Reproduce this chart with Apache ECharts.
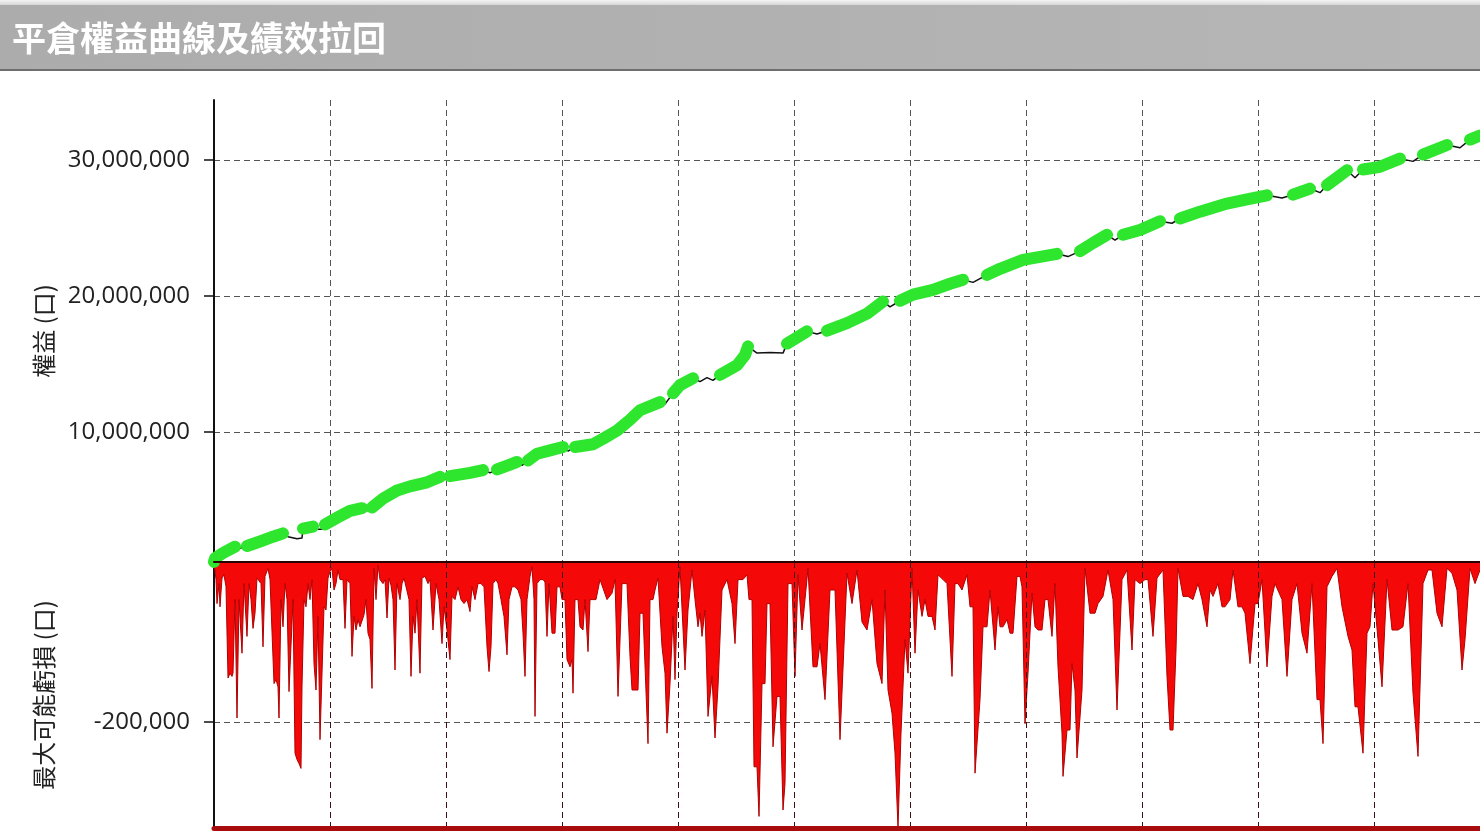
<!DOCTYPE html>
<html><head><meta charset="utf-8">
<script src="https://cdn.jsdelivr.net/npm/echarts@6/dist/echarts.min.js"></script>
<style>html,body{margin:0;padding:0;background:#fff}#c{width:1480px;height:832px}</style>
</head><body><div id="c"></div>
<script>
const titleText = '平倉權益曲線及績效拉回';
const equityAxisName = '權益 (口)';
const drawdownAxisName = '最大可能虧損 (口)';

// closed-trade equity (trade number, equity)
const eqTrade = [0,1,9,21,26,33,46,59,69,74,
  83,88,89,99,104,109,111,123,136,148,
  153,158,169,183,196,213,226,231,236,256,
  269,276,283,296,303,308,314,323,336,349,
  354,361,379,389,403,416,426,446,451,459,
  466,479,486,493,499,506,523,531,534,543,
  556,569,573,593,603,613,633,653,669,676,
  686,699,719,736,749,759,773,786,809,843,
  854,866,879,893,901,909,926,946,958,966,
  986,1013,1033,1053,1068,1079,1096,1106,1113,1133,
  1141,1149,1166,1186,1199,1209,1233,1246,1256,1266];
const equity = [450000,710000,1100000,1570000,1450000,1620000,1950000,2300000,2550000,2300000,
  2150000,2200000,2900000,3050000,2850000,2850000,3200000,3700000,4200000,4400000,
  4200000,4450000,5100000,5700000,6000000,6300000,6700000,6500000,6750000,7000000,
  7200000,7000000,7250000,7600000,7800000,7550000,7900000,8400000,8650000,8900000,
  8600000,8900000,9100000,9500000,10100000,10900000,11600000,12200000,12050000,12850000,
  13450000,13950000,13700000,14000000,13800000,14200000,14900000,15650000,16300000,15800000,
  15850000,15800000,16500000,17400000,17200000,17450000,18000000,18700000,19600000,19200000,
  19650000,20100000,20450000,20900000,21200000,21000000,21550000,22000000,22650000,23100000,
  22900000,23300000,23900000,24500000,24100000,24500000,24850000,25500000,25350000,25700000,
  26200000,26800000,27100000,27400000,27200000,27450000,27900000,27600000,28150000,29250000,
  28700000,29300000,29500000,30100000,29900000,30400000,31100000,30900000,31500000,31800000];

// maximum possible loss (trade number, loss)
const ddTrade = [0,2,3,5,6,8,10,12,14,16,
  18,19,21,23,25,28,30,33,35,37,
  39,41,43,45,47,49,51,54,56,58,
  60,62,64,65,67,69,71,73,75,77,
  79,81,83,85,87,88,90,92,94,96,
  98,100,102,104,106,108,110,112,114,116,
  118,120,122,124,126,129,131,133,136,138,
  140,142,144,146,148,150,152,154,156,158,
  160,162,164,166,169,171,173,175,177,179,
  181,183,186,188,190,192,195,197,199,201,
  203,206,208,211,214,216,219,222,225,228,
  230,233,236,238,241,244,247,250,253,256,
  258,261,264,267,270,273,275,277,279,282,
  284,287,290,293,295,298,301,304,307,309,
  311,313,316,318,320,321,323,326,329,331,
  333,335,338,341,343,346,348,351,353,356,
  358,359,361,364,366,369,371,374,376,379,
  382,384,
  386,393,398,401,404,408,413,416,418,421,
  424,426,429,434,436,439,441,444,448,451,
  453,456,459,461,463,466,471,474,478,481,
  484,486,488,491,494,498,501,504,508,513,
  518,521,524,529,533,535,538,540,543,545,
  548,551,553,556,559,563,566,569,571,574,
  578,581,584,588,591,594,599,603,606,611,
  616,621,626,633,638,643,648,653,658,663,
  668,671,674,678,681,684,687,691,694,698,
  701,704,708,711,714,718,721,724,729,733,
  738,741,744,748,753,756,759,761,766,769,
  773,776,781,784,
  786,789,793,796,799,803,806,808,811,814,
  818,821,824,828,831,834,838,841,844,848,
  849,853,856,858,861,863,868,871,876,881,
  884,889,894,899,903,908,913,918,921,926,
  931,934,939,943,949,953,956,959,962,964,
  969,974,979,984,988,993,996,999,1004,1008,
  1011,1016,1019,1024,1028,1031,1036,1041,1044,1048,
  1053,1058,1061,1068,1073,1078,1083,1088,1093,1098,
  1103,1106,1109,1113,1118,1123,1128,1134,1138,1141,
  1144,1149,1153,1156,1159,1164,1168,1173,1178,1184,
  1189,1194,1199,1204,1209,1214,1218,1223,1228,1233,
  1238,1243,1248,1251,1256,1261,1266];
const ddLoss = [0,-22000,-52000,-27000,-56000,-20000,-16000,-31000,-145000,-139000,
  -143000,-139000,-47000,-195000,-47000,-114000,-27000,-93000,-27000,-47000,
  -83000,-64000,-20000,-20000,-27000,-106000,-18000,-8000,-22000,-20000,
  -152000,-147000,-156000,-195000,-47000,-81000,-27000,-47000,-162000,-164000,
  -47000,-239000,-247000,-252000,-258000,-156000,-47000,-56000,-27000,-47000,
  -22000,-127000,-160000,-68000,-222000,-222000,-56000,-60000,-20000,-12000,
  -8000,-35000,-27000,-10000,-22000,-22000,-83000,-22000,-27000,-118000,
  -68000,-85000,-72000,-81000,-81000,-66000,-47000,-89000,-97000,-158000,
  -8000,-47000,-4000,-22000,-27000,-22000,-70000,-20000,-29000,-47000,
  -135000,-27000,-47000,-27000,-20000,-18000,-47000,-143000,-68000,-89000,
  -47000,-139000,-20000,-18000,-27000,-22000,-85000,-27000,-47000,-102000,
  -56000,-85000,-122000,-43000,-47000,-31000,-47000,-52000,-47000,-62000,
  -31000,-47000,-27000,-27000,-31000,-106000,-137000,-106000,-27000,-22000,
  -27000,-47000,-68000,-116000,-47000,-31000,-31000,-35000,-47000,-89000,
  -143000,-47000,-18000,-6000,-47000,-193000,-27000,-22000,-22000,-25000,
  -93000,-27000,-89000,-89000,-31000,-31000,-47000,-47000,-122000,-131000,
  -122000,-164000,-47000,-47000,-81000,-85000,-47000,-112000,-47000,-47000,
  -47000,-47000,
  -22000,-47000,-39000,-22000,-168000,-27000,-27000,-118000,-160000,-160000,
  -160000,-64000,-64000,-227000,-47000,-47000,-35000,-20000,-106000,-139000,
  -214000,-152000,-68000,-147000,-64000,-6000,-135000,-60000,-10000,-47000,
  -81000,-64000,-93000,-60000,-193000,-143000,-220000,-156000,-35000,-22000,
  -52000,-102000,-22000,-22000,-16000,-47000,-47000,-256000,-256000,-318000,
  -152000,-152000,-52000,-52000,-231000,-168000,-168000,-310000,-277000,-27000,
  -27000,-143000,-16000,-85000,-47000,-8000,-131000,-131000,-102000,-172000,
  -35000,-35000,-222000,-14000,-52000,-10000,-75000,-85000,-47000,-127000,
  -152000,-35000,-160000,-189000,-239000,-332000,-214000,-97000,-139000,-8000,
  -114000,-35000,-68000,-47000,-68000,-68000,-85000,-16000,-22000,-27000,
  -143000,-27000,-27000,-35000,-16000,-56000,-56000,-264000,-172000,-81000,
  -81000,-35000,-110000,-56000,
  -81000,-81000,-72000,-89000,-89000,-18000,-18000,-31000,-202000,-139000,
  -39000,-81000,-85000,-85000,-47000,-47000,-93000,-27000,-131000,-214000,
  -268000,-210000,-210000,-127000,-160000,-245000,-160000,-8000,-64000,-64000,
  -52000,-43000,-10000,-47000,-185000,-22000,-10000,-110000,-22000,-27000,
  -22000,-22000,-93000,-20000,-10000,-143000,-210000,-210000,-110000,-8000,
  -43000,-43000,-47000,-27000,-47000,-81000,-35000,-43000,-27000,-56000,
  -56000,-47000,-10000,-56000,-56000,-64000,-127000,-52000,-52000,-22000,
  -131000,-43000,-27000,-47000,-143000,-47000,-27000,-89000,-114000,-27000,
  -172000,-172000,-227000,-31000,-18000,-8000,-56000,-93000,-110000,-181000,
  -181000,-239000,-89000,-81000,-27000,-97000,-156000,-22000,-85000,-85000,
  -81000,-27000,-164000,-243000,-27000,-10000,-10000,-64000,-81000,-8000,
  -14000,-35000,-135000,-97000,-8000,-27000,-10000];

const tradeMax = 1266, tradeGridStep = 116;
const equityMin = 441176, equityMax = 34411765;
const lossMin = -332500, lossMax = 0;

const eqAll = eqTrade.map((t, i) => [t, equity[i]]);
let peak = -Infinity;
const eqHigh = eqTrade.map((t, i) => {
  if (equity[i] >= peak) { peak = equity[i]; return [t, equity[i]]; }
  return [t, '-'];
});
const n = Math.min(ddTrade.length, ddLoss.length);
const ddData = [];
for (let i = 0; i < n; i++) ddData.push([ddTrade[i], ddLoss[i]]);

const labelFont = { fontFamily: 'Open Sans', fontSize: 24, color: '#222' };
const nameFont = { fontFamily: 'Noto Sans CJK TC', fontSize: 24, color: '#222' };
const dashed = { color: '#555', width: 1, type: [6, 4] };

const chart = echarts.init(document.getElementById('c'), null, { renderer: 'canvas' });
chart.setOption({
  backgroundColor: '#fff',
  animation: false,
  graphic: [
    { type: 'rect', shape: { x: 0, y: 0, width: 1480, height: 6 },
      style: { fill: new echarts.graphic.LinearGradient(0, 0, 0, 1, [{offset: 0, color: '#f4f4f4'}, {offset: 1, color: '#d0d0d0'}]) } },
    { type: 'rect', shape: { x: 0, y: 5, width: 1480, height: 65 },
      style: { fill: new echarts.graphic.LinearGradient(0, 0, 1, 0, [{offset: 0, color: '#acacac'}, {offset: 1, color: '#b6b6b6'}]) } },
    { type: 'rect', shape: { x: 0, y: 69, width: 1480, height: 2 }, style: { fill: '#6e6e6e' } },
    { type: 'text', x: 12, y: 38,
      style: { text: titleText, fill: '#ffffff', font: 'bold 34px "Noto Sans CJK TC"', verticalAlign: 'middle' } }
  ],
  grid: [
    { left: 214, right: 0, top: 100, height: 462 },
    { left: 214, right: 0, top: 562, height: 266 }
  ],
  xAxis: [
    { gridIndex: 0, type: 'value', min: 0, max: tradeMax, interval: tradeGridStep,
      axisLine: { show: false }, axisTick: { show: false }, axisLabel: { show: false },
      splitLine: { show: true, showMinLine: false, showMaxLine: false, lineStyle: dashed } },
    { gridIndex: 1, type: 'value', position: 'top', min: 0, max: tradeMax, interval: tradeGridStep, z: 4,
      axisLine: { show: true, onZero: false, lineStyle: { color: '#2a0000', width: 2 } },
      axisTick: { show: false }, axisLabel: { show: false },
      splitLine: { show: true, showMinLine: false, showMaxLine: false, lineStyle: { color: '#3a1010', width: 1, type: [6, 4] } } },
    { gridIndex: 1, type: 'value', position: 'bottom', min: 0, max: tradeMax, z: 4,
      axisLine: { show: true, onZero: false, lineStyle: { color: '#a80c0c', width: 5 } },
      axisTick: { show: false }, axisLabel: { show: false }, splitLine: { show: false } }
  ],
  yAxis: [
    { gridIndex: 0, type: 'value', min: equityMin, max: equityMax, splitNumber: 3,
      name: equityAxisName, nameLocation: 'middle', nameGap: 158, nameTextStyle: nameFont,
      axisLine: { show: true, lineStyle: { color: '#111', width: 2 } },
      axisTick: { show: true, length: 10, lineStyle: { color: '#111', width: 1.5 } },
      axisLabel: Object.assign({ margin: 24, showMinLabel: false, showMaxLabel: false, padding: [0, 0, 14, 0],
        formatter: v => Number(v).toLocaleString('en-US') }, labelFont),
      splitLine: { show: true, showMinLine: false, showMaxLine: false, lineStyle: dashed } },
    { gridIndex: 1, type: 'value', min: lossMin, max: lossMax, splitNumber: 2,
      name: drawdownAxisName, nameLocation: 'middle', nameGap: 158, nameTextStyle: nameFont,
      axisLine: { show: true, lineStyle: { color: '#111', width: 2 } },
      axisTick: { show: true, length: 10, lineStyle: { color: '#111', width: 1.5 } },
      axisLabel: Object.assign({ margin: 24, showMinLabel: false, showMaxLabel: false, padding: [0, 0, 12, 0],
        formatter: v => Number(v).toLocaleString('en-US') }, labelFont),
      splitLine: { show: true, showMinLine: false, showMaxLine: false, lineStyle: dashed } }
  ],
  series: [
    { name: 'equityAll', type: 'line', xAxisIndex: 0, yAxisIndex: 0, data: eqAll,
      showSymbol: false, symbol: 'none', z: 2,
      lineStyle: { color: '#111', width: 1.5 } },
    { name: 'equityHigh', type: 'line', xAxisIndex: 0, yAxisIndex: 0, data: eqHigh,
      showSymbol: false, symbol: 'none', z: 3, connectNulls: false,
      lineStyle: { color: '#2ee62e', width: 12, cap: 'round', join: 'round' } },
    { name: 'loss', type: 'line', xAxisIndex: 1, yAxisIndex: 1, data: ddData,
      showSymbol: false, symbol: 'none', z: 2,
      lineStyle: { color: '#b00000', width: 1 },
      areaStyle: { color: '#f40808', opacity: 1 } }
  ]
});
</script>
</body></html>
